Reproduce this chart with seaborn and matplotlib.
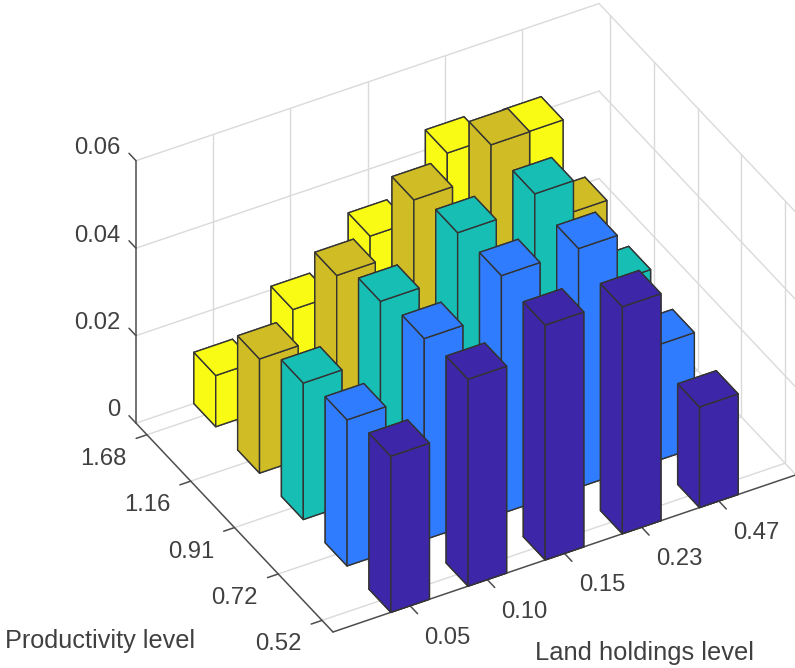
import numpy as np
import matplotlib
matplotlib.use("Agg")
import matplotlib.pyplot as plt
import seaborn as sns
from mpl_toolkits.mplot3d import proj3d

# tick labels
land_labels = ["0.05", "0.10", "0.15", "0.23", "0.47"]
prod_labels = ["0.52", "0.72", "0.91", "1.16", "1.68"]
z_ticks = [0, 0.02, 0.04, 0.06]

# bar heights, one list per productivity level (land 0.05 -> 0.47)
prod_052 = [0.0357, 0.0473, 0.0537, 0.0519, 0.0230]
prod_072 = [0.0334, 0.0460, 0.0544, 0.0546, 0.0264]
prod_091 = [0.0312, 0.0439, 0.0536, 0.0565, 0.0302]
prod_116 = [0.0261, 0.0392, 0.0505, 0.0571, 0.0354]
prod_168 = [0.0117, 0.0208, 0.0316, 0.0446, 0.0432]
heights = [prod_052, prod_072, prod_091, prod_116, prod_168]

sns.set_theme(style="white")
plt.rcParams["font.family"] = ["Liberation Sans", "DejaVu Sans"]
row_colors = sns.color_palette(["#3E26A8", "#2F7CFF", "#17BEB4", "#D0BC24", "#F9FB15"])

W, H = 795, 668
TEXT = "#404040"
AXIS = "#4d4d4d"
GRID = "#dadada"
XMIN, XMAX = 0, 6
YMIN, YMAX = 0.75, 5.25
ZMAX = 0.06

fig = plt.figure(figsize=(W / 100, H / 100), dpi=100)
fig.patch.set_facecolor("white")
ax = fig.add_axes([0.1, 0.1, 0.8, 0.8 * W / H], projection="3d", proj_type="ortho", computed_zorder=False)
ax.view_init(elev=36.86, azim=-119.5)
ax.set_box_aspect((532, 400, 328))

# back to front so the bars paint over each other properly
order = 20
for j in range(4, -1, -1):
    for i in range(4, -1, -1):
        bar = ax.bar3d(i + 1 - 0.25, j + 1 - 0.25, 0, 0.5, 0.5, heights[j][i],
                       color=row_colors[j], edgecolor="#333333", linewidth=1.0, shade=False)
        bar.set_zorder(order)
        order += 1

ax.set_xlim(XMIN, XMAX, view_margin=0)
ax.set_ylim(YMIN, YMAX, view_margin=0)
ax.set_zlim(0, ZMAX, view_margin=0)
ax.set_axis_off()

# grid on the floor and the two back walls
grid_kw = dict(color=GRID, lw=1.0, zorder=1, clip_on=False)
for i in range(1, 6):
    ax.plot([i, i], [YMIN, YMAX], [0, 0], **grid_kw)
    ax.plot([i, i], [YMAX, YMAX], [0, ZMAX], **grid_kw)
for j in range(1, 6):
    ax.plot([XMIN, XMAX], [j, j], [0, 0], **grid_kw)
    ax.plot([XMAX, XMAX], [j, j], [0, ZMAX], **grid_kw)
for z in z_ticks:
    ax.plot([XMIN, XMAX], [YMAX, YMAX], [z, z], **grid_kw)
    ax.plot([XMAX, XMAX], [YMAX, YMIN], [z, z], **grid_kw)

# matlab style axis lines and ticks
axis_kw = dict(color=AXIS, lw=1.1, zorder=5, clip_on=False)
ax.plot([XMIN, XMIN], [YMAX, YMIN], [0, 0], **axis_kw)
ax.plot([XMIN, XMAX], [YMIN, YMIN], [0, 0], **axis_kw)
ax.plot([XMIN, XMIN], [YMAX, YMAX], [0, ZMAX], **axis_kw)
for i in range(1, 6):
    ax.plot([i, i], [YMIN, YMIN - 0.17], [0, 0], **axis_kw)
for j in range(1, 6):
    ax.plot([XMIN, XMIN - 0.14], [j, j], [0, 0], **axis_kw)
for z in z_ticks:
    ax.plot([XMIN, XMIN], [YMAX, YMAX + 0.16], [z, z], **axis_kw)


def to_px(x, y, z):
    xs, ys, _ = proj3d.proj_transform(x, y, z, ax.get_proj())
    px, py = ax.transData.transform((xs, ys))
    return px, H - py


# fit the box on the floor corners: left (136,423), right (796,475)
for _ in range(3):
    lx, ly = to_px(XMIN, YMAX, 0)
    rx, ry = to_px(XMAX, YMIN, 0)
    pos = ax.get_position()
    side = pos.width * W * 660 / (rx - lx)
    cx = pos.x0 * W + pos.width * W / 2 + (136 - lx + 796 - rx) / 2
    cy = pos.y0 * H + pos.height * H / 2 - (423 - ly + 475 - ry) / 2
    ax.set_position([(cx - side / 2) / W, (cy - side / 2) / H, side / W, side / H])
    ax.apply_aspect()


def label_at(x, y, z, text, ha="center"):
    px, py = to_px(x, y, z)
    fig.text(px / W, 1 - py / H, text, ha=ha, va="center", fontsize=17.2, color=TEXT)


for i, label in enumerate(land_labels):
    label_at(i + 1.07, 0.02, 0, label)
for j, label in enumerate(prod_labels):
    label_at(-0.651, j + 1 - 0.15, 0, label)
for z in z_ticks:
    label_at(-0.157, YMAX + 0.088, z + 0.0029, f"{z:g}", ha="right")

fig.text(5 / W, 1 - 641 / H, "Productivity level", ha="left", va="center", fontsize=18.2, color=TEXT)
fig.text(535 / W, 1 - 653 / H, "Land holdings level", ha="left", va="center", fontsize=18.4, color=TEXT)

fig.savefig("out.png", dpi=100, facecolor="white")
plt.close(fig)
